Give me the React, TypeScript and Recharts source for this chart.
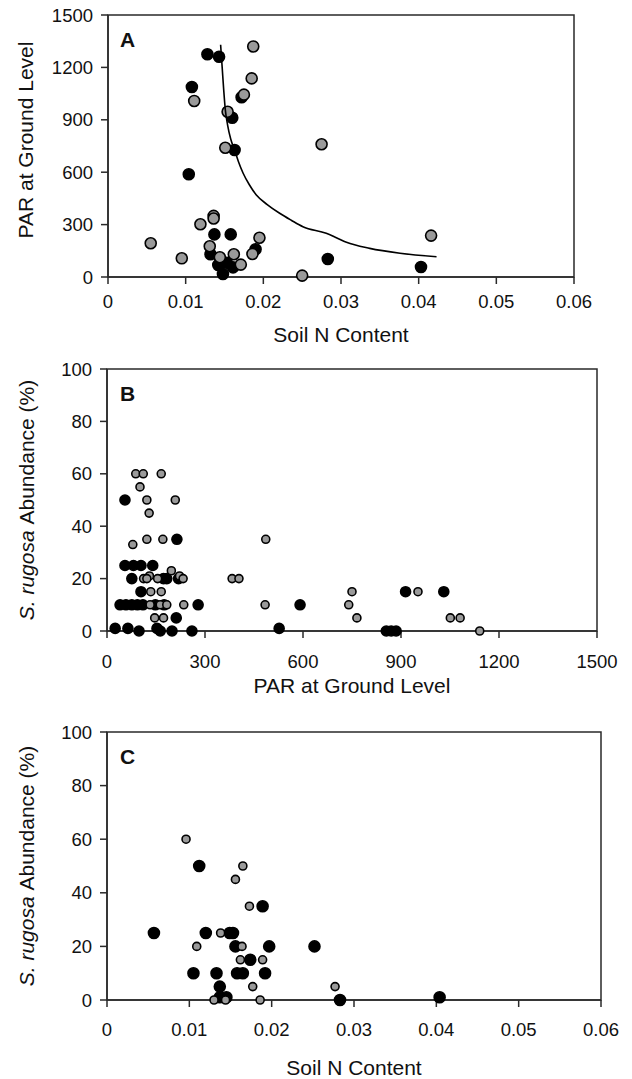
import React from 'react';
import { ScatterChart, Scatter, XAxis, YAxis, ReferenceArea } from 'recharts';

// Panel A: Soil N content vs PAR at ground level
const aGray = [
  { x: 0.0187, y: 1320 }, { x: 0.0185, y: 1137 }, { x: 0.0175, y: 1044 }, { x: 0.0111, y: 1008 },
  { x: 0.0154, y: 946 }, { x: 0.0151, y: 740 }, { x: 0.0136, y: 350 }, { x: 0.0136, y: 335 },
  { x: 0.0119, y: 302 }, { x: 0.0055, y: 193 }, { x: 0.0195, y: 225 }, { x: 0.0131, y: 176 },
  { x: 0.0186, y: 132 }, { x: 0.0144, y: 113 }, { x: 0.0162, y: 130 }, { x: 0.0095, y: 107 },
  { x: 0.0171, y: 71 }, { x: 0.0275, y: 760 }, { x: 0.025, y: 8 }, { x: 0.0416, y: 237 },
];
const aBlack = [
  { x: 0.0128, y: 1275 }, { x: 0.0143, y: 1261 }, { x: 0.0108, y: 1088 }, { x: 0.0172, y: 1029 },
  { x: 0.016, y: 912 }, { x: 0.0163, y: 727 }, { x: 0.0104, y: 588 }, { x: 0.0137, y: 244 },
  { x: 0.0158, y: 244 }, { x: 0.019, y: 159 }, { x: 0.0132, y: 130 }, { x: 0.0142, y: 69 },
  { x: 0.0153, y: 82 }, { x: 0.0161, y: 55 }, { x: 0.0148, y: 17 }, { x: 0.0283, y: 103 },
  { x: 0.0403, y: 57 },
];
const aFit = [
  { x: 0.0145, y: 1330 }, { x: 0.0147, y: 1200 }, { x: 0.0149, y: 1070 }, { x: 0.0151, y: 960 },
  { x: 0.0154, y: 870 }, { x: 0.0158, y: 790 }, { x: 0.0163, y: 727 }, { x: 0.0168, y: 660 },
  { x: 0.0174, y: 594 }, { x: 0.0182, y: 528 }, { x: 0.0191, y: 469 }, { x: 0.0205, y: 415 },
  { x: 0.0221, y: 365 }, { x: 0.0236, y: 325 }, { x: 0.0251, y: 288 }, { x: 0.0281, y: 250 },
  { x: 0.0294, y: 225 }, { x: 0.0307, y: 199 }, { x: 0.0337, y: 164 }, { x: 0.0376, y: 136 },
  { x: 0.0423, y: 116 },
];

// Panel B: PAR vs S. rugosa abundance
const bGray = [
  { x: 88, y: 60 }, { x: 111, y: 60 }, { x: 166, y: 60 }, { x: 101, y: 55 }, { x: 122, y: 50 },
  { x: 209, y: 50 }, { x: 129, y: 45 }, { x: 122, y: 35 }, { x: 171, y: 35 }, { x: 486, y: 35 },
  { x: 79, y: 33 }, { x: 197, y: 23 }, { x: 130, y: 21 }, { x: 222, y: 21 }, { x: 112, y: 20 },
  { x: 122, y: 20 }, { x: 155, y: 20 }, { x: 233, y: 20 }, { x: 383, y: 20 }, { x: 404, y: 20 },
  { x: 134, y: 15 }, { x: 166, y: 15 }, { x: 132, y: 10 }, { x: 163, y: 10 }, { x: 183, y: 10 },
  { x: 235, y: 10 }, { x: 484, y: 10 }, { x: 146, y: 5 }, { x: 173, y: 5 }, { x: 750, y: 15 },
  { x: 740, y: 10 }, { x: 765, y: 5 }, { x: 952, y: 15 }, { x: 1051, y: 5 }, { x: 1081, y: 5 },
  { x: 1141, y: 0 },
];
const bBlack = [
  { x: 55, y: 50 }, { x: 214, y: 35 }, { x: 55, y: 25 }, { x: 81, y: 25 }, { x: 104, y: 25 },
  { x: 140, y: 25 }, { x: 76, y: 20 }, { x: 173, y: 20 }, { x: 183, y: 20 }, { x: 219, y: 20 },
  { x: 104, y: 15 }, { x: 40, y: 10 }, { x: 58, y: 10 }, { x: 76, y: 10 }, { x: 93, y: 10 },
  { x: 110, y: 10 }, { x: 148, y: 10 }, { x: 175, y: 10 }, { x: 279, y: 10 }, { x: 212, y: 5 },
  { x: 25, y: 1 }, { x: 64, y: 1 }, { x: 98, y: 0 }, { x: 153, y: 1 }, { x: 163, y: 0 },
  { x: 199, y: 0 }, { x: 260, y: 0 }, { x: 527, y: 1 }, { x: 591, y: 10 }, { x: 855, y: 0 },
  { x: 870, y: 0 }, { x: 885, y: 0 }, { x: 914, y: 15 }, { x: 1031, y: 15 },
];

// Panel C: Soil N content vs S. rugosa abundance
const cGray = [
  { x: 0.0096, y: 60 }, { x: 0.0165, y: 50 }, { x: 0.0156, y: 45 }, { x: 0.0173, y: 35 },
  { x: 0.0138, y: 25 }, { x: 0.0109, y: 20 }, { x: 0.0164, y: 20 }, { x: 0.0162, y: 15 },
  { x: 0.0189, y: 15 }, { x: 0.0177, y: 5 }, { x: 0.013, y: 0 }, { x: 0.0144, y: 0 },
  { x: 0.0186, y: 0 }, { x: 0.0277, y: 5 },
];
const cBlack = [
  { x: 0.0112, y: 50 }, { x: 0.0189, y: 35 }, { x: 0.0057, y: 25 }, { x: 0.012, y: 25 },
  { x: 0.0149, y: 25 }, { x: 0.0153, y: 25 }, { x: 0.0156, y: 20 }, { x: 0.0197, y: 20 },
  { x: 0.0174, y: 15 }, { x: 0.0105, y: 10 }, { x: 0.0133, y: 10 }, { x: 0.0158, y: 10 },
  { x: 0.0165, y: 10 }, { x: 0.0192, y: 10 }, { x: 0.0137, y: 5 }, { x: 0.0137, y: 1 },
  { x: 0.0145, y: 1 }, { x: 0.0252, y: 20 }, { x: 0.0283, y: 0 }, { x: 0.0404, y: 1 },
];

const soilTicks = [0, 0.01, 0.02, 0.03, 0.04, 0.05, 0.06];
const parTicks = [0, 300, 600, 900, 1200, 1500];
const pctTicks = [0, 20, 40, 60, 80, 100];

const FONT = '"Liberation Sans", Arial, Helvetica, sans-serif';
const AXIS = '#2a2a2a';
const GRAY = '#9a9a9a';
const tickStyle = { fontSize: 18.5, fill: '#111', fontFamily: FONT };

const dot = (r: number, fill: string) => (props: any) =>
  props.cx == null ? <g /> : (
    <circle cx={props.cx} cy={props.cy} r={r} fill={fill} stroke="#000" strokeWidth={1.6} />
  );

const none = () => <g />;

const pctTitle = (cy: number) => (
  <text
    x={34}
    y={cy}
    transform={`rotate(-90, 34, ${cy})`}
    textAnchor="middle"
    fontSize={21}
    fontFamily={FONT}
    fill="#111"
  >
    <tspan fontStyle="italic">S. rugosa </tspan>
    <tspan>Abundance (%)</tspan>
  </text>
);

export default function App() {
  return (
    <div style={{ position: 'absolute', left: 0, top: 0, width: 632, height: 1079, background: '#fff', fontFamily: FONT }}>
      {/* Panel A */}
      <div style={{ position: 'absolute', left: 0, top: 0 }}>
        <ScatterChart width={632} height={360} margin={{ top: 15, right: 58, left: 0, bottom: 0 }}>
          <XAxis type="number" dataKey="x" domain={[0, 0.06]} ticks={soilTicks} interval={0}
            height={83} tickSize={7} tickMargin={11} tick={tickStyle}
            axisLine={{ stroke: AXIS, strokeWidth: 1.5 }} tickLine={{ stroke: AXIS, strokeWidth: 1.5 }} />
          <YAxis type="number" dataKey="y" domain={[0, 1500]} ticks={parTicks} interval={0}
            width={108} tickSize={7} tickMargin={8} tick={tickStyle}
            axisLine={{ stroke: AXIS, strokeWidth: 1.5 }} tickLine={{ stroke: AXIS, strokeWidth: 1.5 }} />
          <ReferenceArea x1={0} x2={0.06} y1={0} y2={1500} fill="none" stroke={AXIS} strokeWidth={1.5} ifOverflow="visible" />
          <Scatter data={aBlack} fill="#000" shape={dot(5.5, '#000')} isAnimationActive={false} />
          <Scatter data={aGray} fill={GRAY} shape={dot(5.5, GRAY)} isAnimationActive={false} />
          <Scatter data={aFit} fill="#000" shape={none} line={{ stroke: '#000', strokeWidth: 1.6 }}
            lineJointType="monotoneX" isAnimationActive={false} />
          <text x={120} y={47} fontSize={21} fontWeight="bold" fontFamily={FONT} fill="#111">A</text>
          <text x={341} y={342} textAnchor="middle" fontSize={21} fontFamily={FONT} fill="#111">Soil N Content</text>
          <text x={33} y={140} transform="rotate(-90, 33, 140)" textAnchor="middle" fontSize={21} fontFamily={FONT} fill="#111">PAR at Ground Level</text>
        </ScatterChart>
      </div>

      {/* Panel B */}
      <div style={{ position: 'absolute', left: 0, top: 354 }}>
        <ScatterChart width={632} height={360} margin={{ top: 15, right: 35, left: 0, bottom: 0 }}>
          <XAxis type="number" dataKey="x" domain={[0, 1500]} ticks={parTicks} interval={0}
            height={83} tickSize={7} tickMargin={17} tick={tickStyle}
            axisLine={{ stroke: AXIS, strokeWidth: 1.5 }} tickLine={{ stroke: AXIS, strokeWidth: 1.5 }} />
          <YAxis type="number" dataKey="y" domain={[0, 100]} ticks={pctTicks} interval={0}
            width={107} tickSize={7} tickMargin={8} tick={tickStyle}
            axisLine={{ stroke: AXIS, strokeWidth: 1.5 }} tickLine={{ stroke: AXIS, strokeWidth: 1.5 }} />
          <ReferenceArea x1={0} x2={1500} y1={0} y2={100} fill="none" stroke={AXIS} strokeWidth={1.5} ifOverflow="visible" />
          <Scatter data={bBlack} fill="#000" shape={dot(5, '#000')} isAnimationActive={false} />
          <Scatter data={bGray} fill={GRAY} shape={dot(4, GRAY)} isAnimationActive={false} />
          <text x={120} y={47} fontSize={21} fontWeight="bold" fontFamily={FONT} fill="#111">B</text>
          <text x={352} y={339} textAnchor="middle" fontSize={21} fontFamily={FONT} fill="#111">PAR at Ground Level</text>
          {pctTitle(146)}
        </ScatterChart>
      </div>

      {/* Panel C */}
      <div style={{ position: 'absolute', left: 0, top: 717 }}>
        <ScatterChart width={632} height={362} margin={{ top: 15, right: 31, left: 0, bottom: 0 }}>
          <XAxis type="number" dataKey="x" domain={[0, 0.06]} ticks={soilTicks} interval={0}
            height={79} tickSize={7} tickMargin={16} tick={tickStyle}
            axisLine={{ stroke: AXIS, strokeWidth: 1.5 }} tickLine={{ stroke: AXIS, strokeWidth: 1.5 }} />
          <YAxis type="number" dataKey="y" domain={[0, 100]} ticks={pctTicks} interval={0}
            width={107} tickSize={7} tickMargin={8} tick={tickStyle}
            axisLine={{ stroke: AXIS, strokeWidth: 1.5 }} tickLine={{ stroke: AXIS, strokeWidth: 1.5 }} />
          <ReferenceArea x1={0} x2={0.06} y1={0} y2={100} fill="none" stroke={AXIS} strokeWidth={1.5} ifOverflow="visible" />
          <Scatter data={cBlack} fill="#000" shape={dot(5.5, '#000')} isAnimationActive={false} />
          <Scatter data={cGray} fill={GRAY} shape={dot(4, GRAY)} isAnimationActive={false} />
          <text x={120} y={47} fontSize={21} fontWeight="bold" fontFamily={FONT} fill="#111">C</text>
          <text x={354} y={358} textAnchor="middle" fontSize={21} fontFamily={FONT} fill="#111">Soil N Content</text>
          {pctTitle(149)}
        </ScatterChart>
      </div>
    </div>
  );
}
